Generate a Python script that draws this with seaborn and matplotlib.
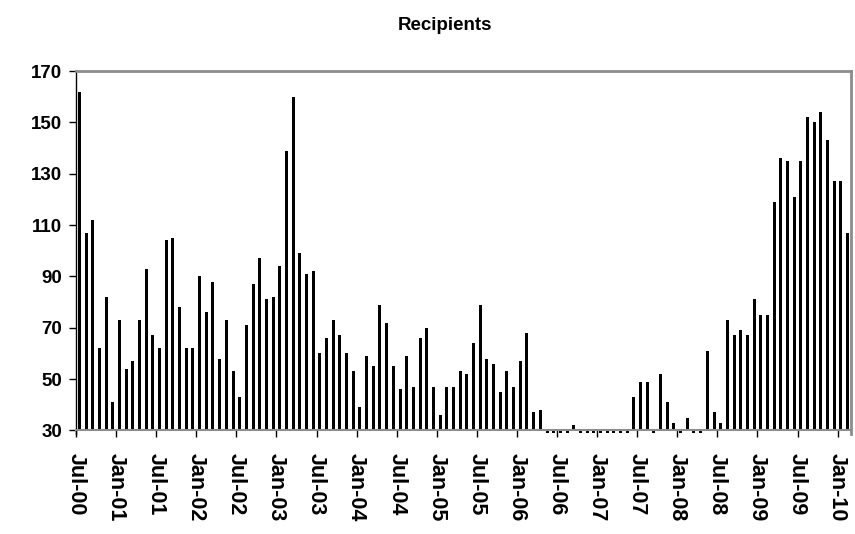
import numpy as np
import pandas as pd
import matplotlib
matplotlib.use("Agg")
import matplotlib.pyplot as plt
import seaborn as sns

# ==========================================
# DATA: monthly recipients, Jul-00 .. Feb-10
# ==========================================
recipients = [
    162, 107, 112, 62, 82, 41, 73, 54, 57, 73, 93, 67,          # Jul-00 .. Jun-01
    62, 104, 105, 78, 62, 62, 90, 76, 88, 58, 73, 53,           # Jul-01 .. Jun-02
    43, 71, 87, 97, 81, 82, 94, 139, 160, 99, 91, 92,           # Jul-02 .. Jun-03
    60, 66, 73, 67, 60, 53, 39, 59, 55, 79, 72, 55,             # Jul-03 .. Jun-04
    46, 59, 47, 66, 70, 47, 36, 47, 47, 53, 52, 64,             # Jul-04 .. Jun-05
    79, 58, 56, 45, 53, 47, 57, 68, 37, 38, 29, 29,             # Jul-05 .. Jun-06
    29, 29, 32, 29, 29, 29, 29, 29, 29, 29, 29, 43,             # Jul-06 .. Jun-07
    49, 49, 29, 52, 41, 33, 29, 35, 29, 29, 61, 37,             # Jul-07 .. Jun-08
    33, 73, 67, 69, 67, 81, 75, 75, 119, 136, 135, 121,         # Jul-08 .. Jun-09
    135, 152, 150, 154, 143, 127, 127, 107,                     # Jul-09 .. Feb-10
]
tick_labels = ["Jul-00", "Jan-01", "Jul-01", "Jan-02", "Jul-02", "Jan-03",
               "Jul-03", "Jan-04", "Jul-04", "Jan-05", "Jul-05", "Jan-06",
               "Jul-06", "Jan-07", "Jul-07", "Jan-08", "Jul-08", "Jan-09",
               "Jul-09", "Jan-10"]
y_ticks = [30, 50, 70, 90, 110, 130, 150, 170]
BASE = 30

df = pd.DataFrame({"month": np.arange(len(recipients)), "value": recipients})
df["height"] = df["value"] - BASE

# ==========================================
# PLOT
# ==========================================
sns.set_style("white", {"text.color": "black", "xtick.color": "black",
                        "ytick.color": "black", "axes.labelcolor": "black"})
plt.rcParams["font.family"] = ["Liberation Sans", "DejaVu Sans"]

fig = plt.figure(figsize=(8.55, 5.34), dpi=100)
ax = fig.add_axes([76 / 855, 1 - 434 / 534, (851 - 76) / 855, (434 - 71) / 534])

sns.barplot(data=df, x="month", y="height", color="black", width=0.45,
            bottom=BASE, ax=ax, saturation=1, linewidth=0)

ax.set_xlim(-0.5, len(recipients) - 0.5)
ax.set_ylim(28.6, 170)
ax.set_xticks(np.arange(0, len(recipients), 6) - 0.5)
ax.set_xticklabels(tick_labels)
ax.set_yticks(y_ticks)
ax.set_yticklabels([str(v) for v in y_ticks])
ax.set_xlabel("")
ax.set_ylabel("")

ax.spines["bottom"].set_position(("data", BASE))
ax.spines["bottom"].set_color("#8c8c8c")
ax.spines["bottom"].set_linewidth(1.5)
ax.spines["top"].set_color("#8c8c8c")
ax.spines["top"].set_linewidth(2)
ax.spines["right"].set_color("#8c8c8c")
ax.spines["right"].set_linewidth(2)
ax.spines["left"].set_color("black")
ax.spines["left"].set_linewidth(1)
ax.tick_params(axis="both", direction="out", length=5, width=1, color="black",
               bottom=True, left=True)
ax.tick_params(axis="x", pad=11, labelsize=15.5)
ax.tick_params(axis="y", pad=5, labelsize=13.5)

for lbl in ax.get_xticklabels():
    lbl.set_rotation(-90)
    lbl.set_ha("center")
    lbl.set_va("top")
    lbl.set_fontweight("bold")
for lbl in ax.get_yticklabels():
    lbl.set_fontweight("bold")

fig.text(0.52, 1 - 26 / 534, "Recipients", ha="center", va="center",
         fontsize=13.5, fontweight="bold")

fig.savefig("out.png", dpi=100)
